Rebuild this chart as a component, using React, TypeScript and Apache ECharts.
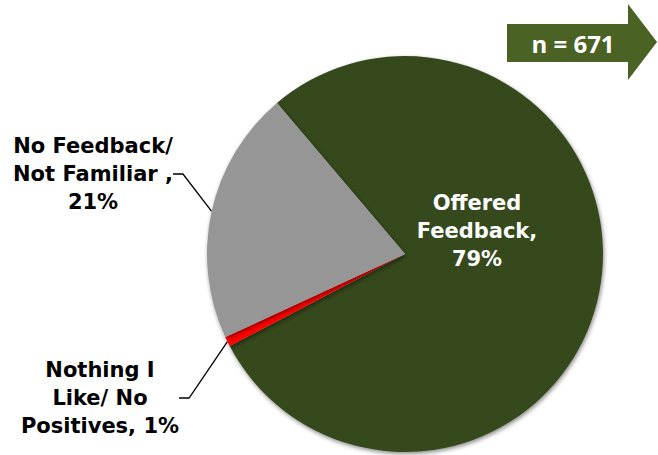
import React, { useEffect, useRef } from 'react';
import * as echarts from 'echarts';

// ---- data ----
const categories = ['Offered Feedback', 'Nothing I Like/ No Positives', 'No Feedback/ Not Familiar'];
const values = [78.5, 0.8, 20.7];
const percentLabels = ['79%', '1%', '21%'];
const labelLinesText = [
  ['Offered', 'Feedback,', percentLabels[0]],
  ['Nothing I', 'Like/ No', 'Positives, ' + percentLabels[1]],
  ['No Feedback/', 'Not Familiar ,', percentLabels[2]],
];
const sampleSize = 'n = 671';

// ---- styling / layout ----
const sliceColors = ['#354a1f', '#ff0000', '#969696'];
const labelColors = ['#ffffff', '#000000', '#000000'];
const labelAnchors: number[][] = [
  [477, 231],
  [100, 398],
  [93, 174],
];
const FONT = '"DejaVu Sans", Verdana, sans-serif';

export default function App() {
  const ref = useRef<HTMLDivElement>(null);

  useEffect(() => {
    if (!ref.current) return;
    const chart = echarts.init(ref.current, undefined, { renderer: 'svg' });

    const data = categories.map((name, i) => ({
      name,
      value: values[i],
      itemStyle: { color: sliceColors[i] },
      label: {
        position: i === 0 ? 'inside' : 'outside',
        formatter: labelLinesText[i].map((l) => `{c|${l}}`).join('\n'),
        rich: {
          c: {
            align: 'center',
            fontSize: 21,
            fontWeight: 'bold',
            fontFamily: FONT,
            lineHeight: 28,
            color: labelColors[i],
          },
        },
      },
      labelLine: { show: i !== 0 },
    }));

    chart.setOption({
      animation: false,
      backgroundColor: '#ffffff',
      series: [
        {
          type: 'pie',
          center: [405, 254],
          radius: 198,
          startAngle: 130.3,
          clockwise: true,
          avoidLabelOverlap: false,
          itemStyle: {
            borderWidth: 0,
            shadowBlur: 4,
            shadowColor: 'rgba(0,0,0,0.45)',
            shadowOffsetX: 1,
            shadowOffsetY: 2,
          },
          label: { show: true },
          labelLine: {
            show: true,
            length: 20,
            length2: 10,
            lineStyle: { color: '#000000', width: 1.3 },
          },
          labelLayout: (params: any) => {
            const p = labelAnchors[params.dataIndex];
            return { x: p[0], y: p[1], align: 'center', verticalAlign: 'middle' };
          },
          emphasis: { disabled: true },
          data,
        },
      ],
      graphic: [
        {
          type: 'polygon',
          shape: {
            points: [
              [507, 24],
              [628, 24],
              [628, 4],
              [657, 42],
              [628, 80],
              [628, 62],
              [507, 62],
            ],
          },
          style: { fill: '#4b6225' },
        },
        {
          type: 'text',
          x: 573,
          y: 43,
          style: {
            text: sampleSize,
            fill: '#ffffff',
            font: 'bold 24px "Open Sans", Roboto, sans-serif',
            align: 'center',
            verticalAlign: 'middle',
          },
        },
      ],
    });

    return () => chart.dispose();
  }, []);

  return (
    <div
      ref={ref}
      style={{ position: 'fixed', left: 0, top: 0, width: 658, height: 455, background: '#fff' }}
    />
  );
}
